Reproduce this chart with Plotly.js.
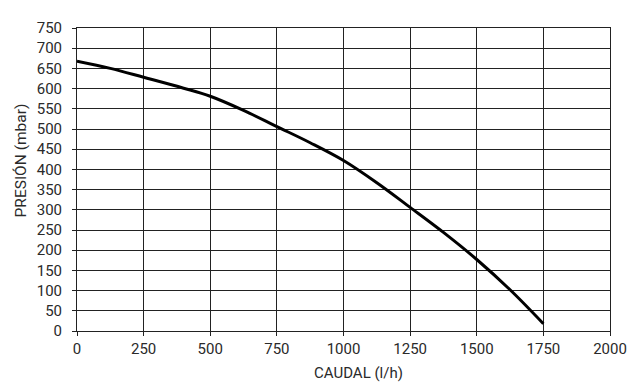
<!DOCTYPE html>
<html>
<head>
<meta charset="utf-8">
<script src="https://cdn.plot.ly/plotly-3.0.1.min.js"></script>
<style>html,body{margin:0;padding:0;background:#fff;}#chart{width:637px;height:385px;}</style>
</head>
<body>
<div id="chart"></div>
<script>
const caudal = [0, 125, 250, 400, 500, 625, 750, 875, 1000, 1125, 1250, 1375, 1500, 1625, 1750];
const presion = [668, 650, 628, 601, 581, 546, 506, 466, 422, 367, 306, 244, 177, 102, 18];
const xTicks = [0, 250, 500, 750, 1000, 1250, 1500, 1750, 2000];
const yTicks = [0, 50, 100, 150, 200, 250, 300, 350, 400, 450, 500, 550, 600, 650, 700, 750];
const xTitle = 'CAUDAL (l/h)';
const yTitle = 'PRESIÓN (mbar)';

const fontFam = 'Roboto, "DejaVu Sans", sans-serif';
Plotly.newPlot('chart', [{
  x: caudal, y: presion, type: 'scatter', mode: 'lines',
  line: {color: '#000', width: 3, shape: 'spline', smoothing: 1},
  hoverinfo: 'skip'
}], {
  width: 637, height: 385,
  margin: {l: 77, r: 27, t: 28, b: 54},
  paper_bgcolor: '#fff', plot_bgcolor: '#fff',
  showlegend: false,
  font: {family: fontFam, size: 15, color: '#2a2a2a'},
  xaxis: {
    range: [0, 2000], tickvals: xTicks, ticktext: xTicks.map(String),
    showgrid: true, gridcolor: '#222', gridwidth: 1,
    zeroline: false, showline: true, linecolor: '#222', linewidth: 1, mirror: true,
    ticks: 'outside', ticklen: 4, tickcolor: '#222',
    tickfont: {size: 15, color: '#2a2a2a'}
  },
  yaxis: {
    range: [0, 750], tickvals: yTicks, ticktext: yTicks.map(String),
    showgrid: true, gridcolor: '#222', gridwidth: 1,
    zeroline: false, showline: true, linecolor: '#222', linewidth: 1, mirror: true,
    ticks: 'outside', ticklen: 4, tickcolor: '#222',
    ticklabelstandoff: 7,
    tickfont: {size: 15, color: '#2a2a2a'}
  },
  annotations: [
    {text: xTitle, xref: 'paper', yref: 'paper', x: 0.529, y: -0.137,
     xanchor: 'center', yanchor: 'middle', showarrow: false,
     font: {size: 15, color: '#2a2a2a', family: fontFam}},
    {text: yTitle, xref: 'paper', yref: 'paper', x: -0.105, y: 0.563,
     xanchor: 'center', yanchor: 'middle', showarrow: false, textangle: -90,
     font: {size: 15.5, color: '#2a2a2a', family: fontFam}}
  ]
}, {staticPlot: true, displayModeBar: false});
</script>
</body>
</html>
